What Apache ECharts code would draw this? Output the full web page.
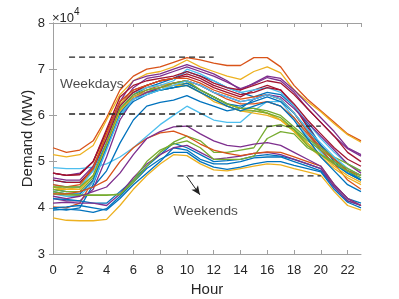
<!DOCTYPE html>
<html><head><meta charset="utf-8">
<script src="https://cdn.jsdelivr.net/npm/echarts@6/dist/echarts.min.js"></script>
<style>html,body{margin:0;padding:0;background:#fff}#c{width:399px;height:299px}</style>
</head><body><div id="c"></div>
<script>
// Hours of day
const hours = [0,1,2,3,4,5,6,7,8,9,10,11,12,13,14,15,16,17,18,19,20,21,22,23];
const xTicks = [0,2,4,6,8,10,12,14,16,18,20,22];
const yTicks = [3,4,5,6,7,8];
// Demand values in units of 10^4 MW
// Weekday profiles
const wd01 = [4.60,4.55,4.55,4.80,5.40,6.10,6.45,6.60,6.70,6.80,6.95,6.85,6.75,6.60,6.50,6.40,6.50,6.45,6.20,5.80,5.35,5.00,4.75,4.60];
const wd02 = [5.30,5.20,5.25,5.45,5.95,6.55,6.85,7.00,7.05,7.15,7.25,7.20,7.13,7.08,7.08,7.25,7.25,7.05,6.65,6.35,6.10,5.85,5.60,5.45];
const wd03 = [5.15,5.10,5.15,5.35,5.90,6.45,6.75,6.90,6.95,7.05,7.20,7.05,6.95,6.85,6.78,6.95,7.05,6.92,6.55,6.30,6.08,5.82,5.58,5.42];
const wd04 = [4.75,4.70,4.75,5.00,5.60,6.20,6.60,6.80,6.85,6.95,7.05,6.95,6.85,6.72,6.58,6.68,6.82,6.75,6.50,6.15,5.85,5.55,5.28,5.12];
const wd05 = [4.45,4.40,4.40,4.70,5.30,6.00,6.35,6.50,6.60,6.65,6.70,6.55,6.40,6.25,6.15,6.15,6.05,5.90,5.70,5.40,5.15,4.95,4.80,4.70];
const wd06 = [4.87,4.85,4.85,4.88,4.95,5.10,5.30,5.55,5.80,6.00,6.20,6.05,5.90,5.85,5.85,6.10,6.30,6.30,5.95,5.55,5.20,4.95,4.75,4.65];
const wd07 = [4.75,4.70,4.72,5.00,5.65,6.30,6.55,6.65,6.75,6.80,6.85,6.75,6.60,6.50,6.40,6.55,6.65,6.55,6.20,5.75,5.35,5.05,4.80,4.70];
const wd08 = [4.40,4.35,4.35,4.45,4.80,5.40,5.90,6.20,6.28,6.33,6.43,6.30,6.20,6.10,6.15,6.35,6.45,6.35,6.05,5.65,5.25,4.95,4.75,4.60];
const wd09 = [4.02,4.00,4.10,4.60,5.40,6.10,6.40,6.55,6.65,6.70,6.75,6.65,6.50,6.35,6.25,6.25,6.30,6.20,5.95,5.60,5.25,4.95,4.60,4.40];
const wd10 = [4.40,4.40,4.45,4.90,5.60,6.25,6.50,6.60,6.65,6.70,6.75,6.55,6.40,6.25,6.15,6.10,6.05,5.90,5.65,5.35,5.10,4.85,4.65,4.50];
const wd11 = [4.65,4.60,4.60,4.90,5.50,6.30,6.75,6.85,6.90,7.00,7.10,7.00,6.90,6.75,6.55,6.70,6.85,6.80,6.55,6.25,5.95,5.65,5.30,5.15];
const wd12 = [4.40,4.35,4.35,4.65,5.30,6.10,6.40,6.50,6.55,6.60,6.65,6.50,6.35,6.20,6.10,6.10,6.05,5.95,5.70,5.45,5.25,5.05,4.85,4.70];
const wd13 = [4.50,4.45,4.45,4.80,5.50,6.20,6.50,6.60,6.65,6.75,7.00,6.90,6.75,6.60,6.50,6.55,6.60,6.50,6.20,5.85,5.50,5.20,4.95,4.80];
const wd14 = [4.60,4.55,4.55,4.85,5.50,6.20,6.50,6.65,6.75,6.80,6.90,6.80,6.65,6.55,6.45,6.50,6.60,6.55,6.25,5.90,5.60,5.30,5.05,4.90];
const wd15 = [4.35,4.30,4.30,4.60,5.30,6.05,6.40,6.50,6.55,6.60,6.70,6.55,6.40,6.25,6.20,6.30,6.40,6.30,6.05,5.70,5.35,5.05,4.80,4.60];
const wd16 = [4.50,4.45,4.50,4.85,5.60,6.30,6.55,6.65,6.75,6.80,6.80,6.70,6.55,6.45,6.35,6.40,6.45,6.35,6.05,5.65,5.30,5.05,4.80,4.70];
const wd17 = [4.45,4.40,4.40,4.70,5.35,6.10,6.40,6.50,6.60,6.65,6.65,6.50,6.30,6.20,6.10,6.05,6.00,5.90,5.65,5.40,5.15,4.90,4.70,4.55];
const wd18 = [4.20,4.15,4.15,4.40,5.10,5.90,6.35,6.50,6.60,6.70,6.75,6.65,6.50,6.40,6.30,6.35,6.45,6.40,6.15,5.85,5.55,5.25,4.95,4.75];
const wd19 = [4.45,4.45,4.45,4.70,5.40,6.15,6.45,6.55,6.60,6.70,6.75,6.55,6.40,6.25,6.15,6.15,6.10,6.00,5.75,5.50,5.30,5.10,4.95,4.80];
const wd20 = [4.75,4.70,4.72,5.00,5.70,6.40,6.65,6.75,6.80,6.85,6.95,6.85,6.70,6.60,6.55,6.65,6.75,6.70,6.45,6.15,5.85,5.55,5.20,5.00];
const wd21 = [3.98,3.95,4.00,4.50,5.30,6.00,6.30,6.45,6.55,6.60,6.65,6.50,6.35,6.20,6.10,6.20,6.30,6.20,5.90,5.50,5.10,4.80,4.50,4.35];
const wd22 = [4.30,4.25,4.25,4.55,5.25,6.00,6.35,6.45,6.55,6.65,6.75,6.65,6.50,6.40,6.30,6.35,6.45,6.35,6.05,5.70,5.40,5.10,4.85,4.70];
// Weekend profiles
const we01 = [3.78,3.73,3.72,3.72,3.75,4.05,4.40,4.70,4.95,5.15,5.13,4.95,4.82,4.80,4.85,4.90,4.95,4.93,4.85,4.78,4.70,4.35,4.05,3.95];
const we02 = [3.95,3.97,3.95,3.90,3.98,4.25,4.55,4.85,5.05,5.20,5.20,5.00,4.88,4.83,4.88,4.95,5.00,5.00,4.92,4.85,4.78,4.40,4.12,4.00];
const we03 = [4.00,4.02,4.05,4.00,3.95,4.20,4.50,4.75,5.00,5.30,5.25,5.05,4.95,4.95,5.00,5.08,5.10,5.10,5.00,4.90,4.80,4.45,4.15,4.05];
const we04 = [4.20,4.18,4.15,4.10,4.10,4.35,4.60,4.90,5.15,5.40,5.30,5.15,5.00,5.02,5.05,5.12,5.15,5.12,5.05,4.95,4.85,4.50,4.20,4.10];
const we05 = [4.10,4.12,4.10,4.10,4.05,4.30,4.65,4.95,5.15,5.30,5.35,5.20,5.05,5.08,5.12,5.18,5.20,5.15,5.05,4.95,4.85,4.45,4.15,4.05];
const we06 = [4.30,4.28,4.27,4.27,4.27,4.30,4.55,4.90,5.20,5.42,5.55,5.45,5.20,5.20,5.25,5.30,5.75,5.80,5.70,5.35,5.15,4.95,4.80,4.65];
const we07 = [4.35,4.30,4.28,4.28,4.28,4.28,4.60,5.00,5.25,5.38,5.45,5.30,5.05,5.05,5.05,5.12,5.50,5.65,5.60,5.30,5.15,5.00,4.85,4.70];
const we08 = [4.30,4.30,4.35,4.45,4.60,5.00,5.30,5.50,5.62,5.66,5.55,5.38,5.25,5.18,5.13,5.18,5.21,5.20,5.10,5.00,4.90,4.50,4.20,4.05];
const we09 = [4.25,4.20,4.25,4.35,4.45,4.75,5.15,5.50,5.65,5.75,5.77,5.60,5.45,5.35,5.32,5.38,5.41,5.35,5.20,5.05,4.90,4.50,4.20,4.05];
// Reference levels [xStart, xEnd, level]
const refWeekdayHigh = [1.2, 12.0, 7.26];
const refWeekdayLow  = [1.2, 11.9, 6.03];
const refWeekendHigh = [9.2, 20.0, 5.77];
const refWeekendLow  = [9.3, 20.0, 4.69];
const weekendArrow = [[9.97, 4.69], [10.97, 4.28]];
const labelWeekdays = [2.9, 6.68, 'Weekdays'];
const labelWeekends = [11.4, 3.93, 'Weekends'];

const C = {b:'#0072BD', o:'#D95319', y:'#EDB120', p:'#7E2F8E', g:'#77AC30', c:'#4DBEEE', r:'#A2142F'};
const profiles = [
  [wd01,'b'],[wd02,'o'],[wd03,'y'],[wd04,'p'],[wd05,'g'],[wd06,'c'],[wd07,'r'],
  [wd08,'b'],[wd09,'o'],[wd10,'y'],[wd11,'p'],[wd12,'g'],[wd13,'c'],[wd14,'r'],
  [wd15,'b'],[wd16,'o'],[wd17,'y'],[wd18,'p'],[wd19,'g'],[wd20,'r'],[wd21,'b'],[wd22,'c'],
  [we01,'y'],[we02,'b'],[we03,'b'],[we04,'b'],[we05,'p'],[we06,'g'],[we07,'g'],[we08,'o'],[we09,'p']
];
const FONT = 'Liberation Sans';
const series = profiles.map(([v,c]) => ({
  type:'line', data: hours.map((h,i)=>[h,v[i]]), showSymbol:false, symbol:'none',
  lineStyle:{color:C[c], width:1.3}, itemStyle:{color:C[c]}, silent:true, z:2
}));
[refWeekdayHigh, refWeekdayLow, refWeekendHigh, refWeekendLow].forEach(r => {
  series.push({type:'line', data:[[r[0],r[2]],[r[1],r[2]]], symbol:'none',
    lineStyle:{color:'#222', width:1.3, type:[6,4]}, z:5, silent:true});
});
series.push({type:'line', data:[], markLine:{silent:true, symbol:['none','arrow'], symbolSize:[6,9],
  lineStyle:{color:'#222', type:'solid', width:1}, label:{show:false},
  data:[[{coord:weekendArrow[0]},{coord:weekendArrow[1]}]]}, z:6});
series.push({type:'scatter', symbolSize:0, z:7, silent:true,
  data:[labelWeekdays, labelWeekends].map(l=>({value:[l[0],l[1]], name:l[2]})),
  label:{show:true, position:'inside', formatter:p=>p.name, color:'#1a1a1a', fontFamily:FONT, fontSize:13.7}});

const axisCol = '#a0a0a0';
const chart = echarts.init(document.getElementById('c'), null, {renderer:'canvas'});
chart.setOption({
  animation:false,
  grid:{left:53, right:38, top:23, bottom:45, containLabel:false, outerBoundsMode:'none'},
  xAxis:[{type:'value', min:0, max:23, interval:2, name:'Hour', nameLocation:'middle', nameGap:28,
    nameMoveOverlap:false,
    nameTextStyle:{fontFamily:FONT, fontSize:15, color:'#262626'},
    axisLine:{lineStyle:{color:axisCol}}, axisTick:{inside:true, length:4, lineStyle:{color:axisCol}},
    axisLabel:{fontFamily:FONT, fontSize:13, color:'#262626', margin:10, showMaxLabel:false,
      formatter:v=> xTicks.includes(v)? String(v):''},
    splitLine:{show:false}},
   {type:'value', position:'top', min:0, max:23, interval:2,
    axisLine:{lineStyle:{color:axisCol}}, axisTick:{inside:true, length:4, lineStyle:{color:axisCol}},
    axisLabel:{show:false}, splitLine:{show:false}}],
  yAxis:[{type:'value', min:3, max:8, interval:1, name:'Demand (MW)', nameLocation:'middle', nameGap:18,
    nameMoveOverlap:false,
    nameTextStyle:{fontFamily:FONT, fontSize:15, color:'#262626'},
    axisLine:{show:true, lineStyle:{color:axisCol}}, axisTick:{show:true, inside:true, length:4, lineStyle:{color:axisCol}},
    axisLabel:{fontFamily:FONT, fontSize:13, color:'#262626', margin:8,
      formatter:v=> yTicks.includes(v)? String(v):''},
    splitLine:{show:false}},
   {type:'value', position:'right', min:3, max:8, interval:1,
    axisLine:{show:true, lineStyle:{color:axisCol}}, axisTick:{show:true, inside:true, length:4, lineStyle:{color:axisCol}},
    axisLabel:{show:false}, splitLine:{show:false}}],
  graphic:[{type:'text', left:52, top:7, style:{
    text:'{a|×10}{b|4}', rich:{a:{fontFamily:FONT, fontSize:13, fill:'#262626', verticalAlign:'bottom'},
      b:{fontFamily:FONT, fontSize:10, fill:'#262626', verticalAlign:'top', padding:[0,0,8,0]}}}}],
  series: series
});
</script></body></html>
